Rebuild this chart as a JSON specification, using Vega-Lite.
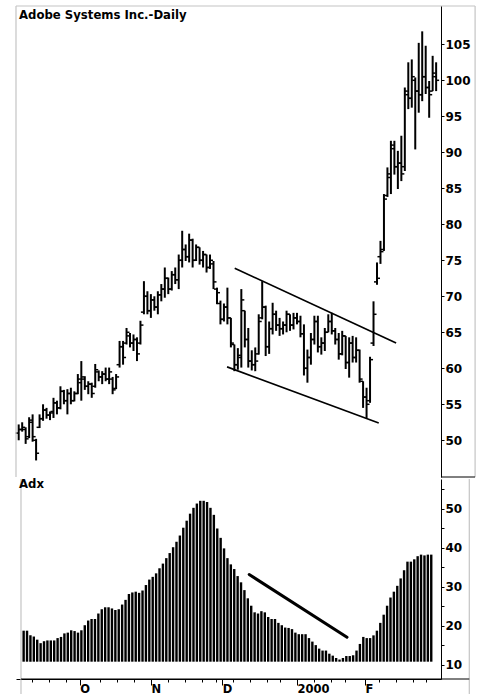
{
"$schema": "https://vega.github.io/schema/vega-lite/v6.json",
"background": "white",
"padding": {"left": 14, "top": 5, "right": 0, "bottom": 0},
"autosize": {"type": "pad"},
"spacing": 0,
"config": {
 "view": {"stroke": null},
 "axis": {"labelFont": "DejaVu Sans", "labelFontWeight": "bold", "labelFontSize": 12, "labelColor": "#000", "domainColor": "#000", "tickColor": "#000", "grid": false, "domainWidth": 1, "tickWidth": 1},
 "title": {"font": "DejaVu Sans", "fontWeight": "bold", "fontSize": 11.7, "color": "#000", "anchor": "start", "frame": "group"}
},
"resolve": {"scale": {"x": "independent", "y": "independent"}},
"datasets": {
 "px": [
{"i":0,"o":51.0,"h":52.2,"l":50.0,"c":51.5},{"i":1,"o":51.5,"h":52.5,"l":51.2,"c":51.8},{"i":2,"o":51.5,"h":51.8,"l":49.5,"c":50.2},{"i":3,"o":50.5,"h":53.2,"l":50.3,"c":52.8},{"i":4,"o":52.5,"h":53.6,"l":49.8,"c":50.5},{"i":5,"o":50.0,"h":50.2,"l":47.2,"c":48.2},{"i":6,"o":51.8,"h":53.6,"l":51.7,"c":53.0},{"i":7,"o":53.0,"h":55.0,"l":52.7,"c":54.2},{"i":8,"o":54.2,"h":54.5,"l":53.0,"c":53.5},{"i":9,"o":53.5,"h":54.0,"l":52.8,"c":53.8},
{"i":10,"o":54.0,"h":55.9,"l":53.1,"c":55.2},{"i":11,"o":55.2,"h":55.5,"l":53.6,"c":54.5},{"i":12,"o":54.5,"h":57.5,"l":54.3,"c":56.8},{"i":13,"o":56.8,"h":57.0,"l":55.0,"c":55.5},{"i":14,"o":55.5,"h":57.1,"l":53.6,"c":56.5},{"i":15,"o":56.5,"h":57.3,"l":55.0,"c":55.5},{"i":16,"o":55.5,"h":56.8,"l":55.4,"c":56.5},{"i":17,"o":56.5,"h":59.2,"l":56.4,"c":58.5},{"i":18,"o":58.0,"h":61.0,"l":55.5,"c":58.8},{"i":19,"o":58.5,"h":58.9,"l":57.0,"c":57.5},
{"i":20,"o":57.5,"h":58.2,"l":56.4,"c":57.8},{"i":21,"o":57.8,"h":58.0,"l":55.9,"c":56.5},{"i":22,"o":57.5,"h":60.6,"l":57.3,"c":59.8},{"i":23,"o":59.5,"h":59.7,"l":58.2,"c":58.8},{"i":24,"o":58.8,"h":59.6,"l":57.8,"c":59.2},{"i":25,"o":59.2,"h":60.1,"l":58.2,"c":58.5},{"i":26,"o":58.5,"h":60.1,"l":57.8,"c":59.5},{"i":27,"o":58.5,"h":58.8,"l":56.4,"c":57.0},{"i":28,"o":57.2,"h":59.2,"l":57.1,"c":58.8},{"i":29,"o":60.5,"h":63.8,"l":60.1,"c":63.0},
{"i":30,"o":63.0,"h":63.8,"l":60.5,"c":61.5},{"i":31,"o":63.5,"h":65.6,"l":63.3,"c":65.0},{"i":32,"o":64.5,"h":64.9,"l":62.9,"c":63.5},{"i":33,"o":63.5,"h":64.7,"l":62.4,"c":64.0},{"i":34,"o":64.0,"h":64.3,"l":61.0,"c":62.0},{"i":35,"o":63.5,"h":66.6,"l":63.3,"c":66.0},{"i":36,"o":67.8,"h":72.1,"l":67.5,"c":70.0},{"i":37,"o":70.0,"h":70.7,"l":67.5,"c":68.0},{"i":38,"o":68.0,"h":70.3,"l":67.0,"c":69.5},{"i":39,"o":69.5,"h":70.0,"l":68.0,"c":68.5},
{"i":40,"o":68.5,"h":70.7,"l":67.5,"c":70.2},{"i":41,"o":70.2,"h":71.7,"l":69.3,"c":71.0},{"i":42,"o":71.0,"h":74.0,"l":69.8,"c":72.5},{"i":43,"o":72.5,"h":72.6,"l":70.3,"c":71.0},{"i":44,"o":71.0,"h":73.5,"l":70.8,"c":73.0},{"i":45,"o":73.0,"h":74.0,"l":71.7,"c":72.3},{"i":46,"o":72.3,"h":75.8,"l":71.0,"c":75.0},{"i":47,"o":75.0,"h":79.1,"l":74.0,"c":76.5},{"i":48,"o":76.5,"h":77.2,"l":74.9,"c":75.5},{"i":49,"o":75.5,"h":78.7,"l":74.7,"c":77.8},
{"i":50,"o":77.8,"h":78.0,"l":74.0,"c":75.0},{"i":51,"o":75.0,"h":77.2,"l":74.9,"c":76.8},{"i":52,"o":76.8,"h":76.8,"l":74.4,"c":75.0},{"i":53,"o":75.0,"h":76.3,"l":74.0,"c":75.8},{"i":54,"o":75.8,"h":75.8,"l":73.3,"c":74.0},{"i":55,"o":74.0,"h":75.8,"l":73.8,"c":75.0},{"i":56,"o":74.5,"h":74.9,"l":71.0,"c":72.0},{"i":57,"o":71.0,"h":71.2,"l":68.9,"c":70.5},{"i":58,"o":69.0,"h":69.4,"l":66.1,"c":66.8},{"i":59,"o":66.8,"h":69.0,"l":66.5,"c":68.5},
{"i":60,"o":68.5,"h":71.2,"l":66.1,"c":67.0},{"i":61,"o":67.0,"h":67.0,"l":62.9,"c":63.5},{"i":62,"o":63.3,"h":63.3,"l":59.6,"c":60.5},{"i":63,"o":60.5,"h":62.8,"l":59.8,"c":61.8},{"i":64,"o":61.5,"h":71.0,"l":60.1,"c":69.5},{"i":65,"o":68.0,"h":68.0,"l":62.9,"c":64.0},{"i":66,"o":64.0,"h":65.6,"l":60.1,"c":61.0},{"i":67,"o":61.0,"h":62.5,"l":59.7,"c":60.5},{"i":68,"o":60.5,"h":62.9,"l":59.6,"c":61.0},{"i":69,"o":62.0,"h":67.5,"l":61.9,"c":66.5},
{"i":70,"o":67.0,"h":72.1,"l":66.8,"c":68.5},{"i":71,"o":68.5,"h":68.7,"l":61.7,"c":63.0},{"i":72,"o":63.0,"h":66.5,"l":62.0,"c":65.5},{"i":73,"o":65.5,"h":69.1,"l":64.7,"c":67.5},{"i":74,"o":67.5,"h":68.0,"l":65.2,"c":66.0},{"i":75,"o":66.0,"h":67.0,"l":64.5,"c":65.5},{"i":76,"o":65.5,"h":66.5,"l":64.7,"c":66.0},{"i":77,"o":66.0,"h":68.0,"l":65.0,"c":67.5},{"i":78,"o":67.5,"h":67.5,"l":65.2,"c":66.0},{"i":79,"o":66.0,"h":67.7,"l":65.4,"c":67.0},
{"i":80,"o":67.0,"h":67.7,"l":66.1,"c":66.5},{"i":81,"o":66.5,"h":67.3,"l":64.3,"c":64.8},{"i":82,"o":64.8,"h":66.1,"l":59.0,"c":60.0},{"i":83,"o":60.0,"h":62.6,"l":58.0,"c":61.5},{"i":84,"o":61.5,"h":64.9,"l":60.5,"c":64.0},{"i":85,"o":64.0,"h":67.3,"l":63.3,"c":66.5},{"i":86,"o":66.5,"h":67.3,"l":62.2,"c":63.0},{"i":87,"o":63.0,"h":64.3,"l":61.9,"c":63.5},{"i":88,"o":63.5,"h":65.6,"l":62.4,"c":65.0},{"i":89,"o":65.0,"h":67.5,"l":65.0,"c":66.5},
{"i":90,"o":66.5,"h":67.7,"l":64.7,"c":65.2},{"i":91,"o":65.2,"h":65.6,"l":63.3,"c":64.0},{"i":92,"o":64.0,"h":64.9,"l":61.2,"c":62.0},{"i":93,"o":62.0,"h":65.2,"l":61.8,"c":64.5},{"i":94,"o":64.5,"h":64.5,"l":59.9,"c":60.8},{"i":95,"o":60.8,"h":64.3,"l":58.7,"c":63.5},{"i":96,"o":63.5,"h":64.5,"l":60.8,"c":61.5},{"i":97,"o":61.5,"h":64.3,"l":60.8,"c":62.5},{"i":98,"o":62.5,"h":62.6,"l":58.0,"c":58.5},{"i":99,"o":58.2,"h":58.2,"l":54.5,"c":56.0},
{"i":100,"o":56.0,"h":57.3,"l":53.1,"c":55.0},{"i":101,"o":55.5,"h":61.6,"l":55.2,"c":61.2},{"i":102,"o":63.5,"h":69.3,"l":63.1,"c":67.5},{"i":103,"o":72.0,"h":74.7,"l":71.6,"c":72.5},{"i":104,"o":75.5,"h":77.7,"l":74.5,"c":76.2},{"i":105,"o":76.5,"h":84.2,"l":76.3,"c":83.5},{"i":106,"o":84.0,"h":87.9,"l":83.8,"c":87.0},{"i":107,"o":86.5,"h":91.6,"l":84.2,"c":91.0},{"i":108,"o":90.5,"h":91.6,"l":86.9,"c":88.0},{"i":109,"o":88.0,"h":90.2,"l":84.9,"c":88.5},
{"i":110,"o":88.5,"h":92.3,"l":86.0,"c":87.0},{"i":111,"o":88.0,"h":99.0,"l":87.4,"c":98.5},{"i":112,"o":98.0,"h":102.5,"l":96.0,"c":97.5},{"i":113,"o":97.5,"h":102.9,"l":96.2,"c":100.5},{"i":114,"o":100.0,"h":100.4,"l":90.4,"c":98.5},{"i":115,"o":98.5,"h":105.2,"l":95.5,"c":98.0},{"i":116,"o":98.0,"h":106.8,"l":97.1,"c":100.5},{"i":117,"o":100.5,"h":104.8,"l":98.1,"c":99.0},{"i":118,"o":99.0,"h":99.9,"l":94.8,"c":98.0},{"i":119,"o":98.5,"h":103.4,"l":98.5,"c":101.0},
{"i":120,"o":100.5,"h":102.5,"l":98.5,"c":100.0}
 ],
 "adx": [
{"i":0,"v":18.8},{"i":1,"v":18.8},{"i":2,"v":17.6},{"i":3,"v":17.3},{"i":4,"v":16.5},{"i":5,"v":15.6},{"i":6,"v":16.1},{"i":7,"v":16.3},{"i":8,"v":16.3},{"i":9,"v":16.3},
{"i":10,"v":16.9},{"i":11,"v":17.2},{"i":12,"v":18.1},{"i":13,"v":18.3},{"i":14,"v":18.9},{"i":15,"v":18.7},{"i":16,"v":18.3},{"i":17,"v":18.9},{"i":18,"v":20.2},{"i":19,"v":21.4},
{"i":20,"v":21.8},{"i":21,"v":21.8},{"i":22,"v":23.2},{"i":23,"v":24.3},{"i":24,"v":24.8},{"i":25,"v":24.8},{"i":26,"v":24.5},{"i":27,"v":24.1},{"i":28,"v":24.3},{"i":29,"v":25.5},
{"i":30,"v":26.7},{"i":31,"v":28.2},{"i":32,"v":28.6},{"i":33,"v":28.8},{"i":34,"v":28.5},{"i":35,"v":29.1},{"i":36,"v":30.5},{"i":37,"v":31.9},{"i":38,"v":32.6},{"i":39,"v":33.5},
{"i":40,"v":34.8},{"i":41,"v":36.0},{"i":42,"v":37.4},{"i":43,"v":38.7},{"i":44,"v":40.2},{"i":45,"v":41.6},{"i":46,"v":43.2},{"i":47,"v":45.2},{"i":48,"v":47.0},{"i":49,"v":48.8},
{"i":50,"v":50.3},{"i":51,"v":51.4},{"i":52,"v":52.1},{"i":53,"v":52.1},{"i":54,"v":51.8},{"i":55,"v":50.3},{"i":56,"v":48.5},{"i":57,"v":45.0},{"i":58,"v":42.6},{"i":59,"v":39.9},
{"i":60,"v":37.4},{"i":61,"v":35.8},{"i":62,"v":34.6},{"i":63,"v":32.8},{"i":64,"v":31.2},{"i":65,"v":29.2},{"i":66,"v":27.1},{"i":67,"v":25.2},{"i":68,"v":23.5},{"i":69,"v":23.2},
{"i":70,"v":23.8},{"i":71,"v":23.5},{"i":72,"v":22.3},{"i":73,"v":21.8},{"i":74,"v":21.8},{"i":75,"v":20.8},{"i":76,"v":20.2},{"i":77,"v":19.6},{"i":78,"v":19.5},{"i":79,"v":19.2},
{"i":80,"v":18.3},{"i":81,"v":17.9},{"i":82,"v":17.9},{"i":83,"v":17.9},{"i":84,"v":16.9},{"i":85,"v":16.0},{"i":86,"v":15.1},{"i":87,"v":14.2},{"i":88,"v":13.7},{"i":89,"v":13.7},
{"i":90,"v":12.9},{"i":91,"v":12.4},{"i":92,"v":11.8},{"i":93,"v":11.4},{"i":94,"v":11.8},{"i":95,"v":12.3},{"i":96,"v":12.3},{"i":97,"v":12.5},{"i":98,"v":13.7},{"i":99,"v":15.4},
{"i":100,"v":17.2},{"i":101,"v":16.9},{"i":102,"v":16.9},{"i":103,"v":17.6},{"i":104,"v":18.8},{"i":105,"v":20.8},{"i":106,"v":22.9},{"i":107,"v":25.2},{"i":108,"v":27.3},{"i":109,"v":28.8},
{"i":110,"v":30.3},{"i":111,"v":32.2},{"i":112,"v":34.3},{"i":113,"v":36.5},{"i":114,"v":36.5},{"i":115,"v":37.1},{"i":116,"v":37.9},{"i":117,"v":38.3},{"i":118,"v":38.1},{"i":119,"v":38.3},
{"i":120,"v":38.3}
 ],
 "channel": [
{"x":62.1,"y":73.9,"x2":108.5,"y2":63.5},
{"x":59.9,"y":60.2,"x2":103.5,"y2":52.4}
 ],
 "adxline": [
{"x":66.4,"y":33.2,"x2":95.2,"y2":17.1}
 ],
 "one": [{}]
},
"vconcat": [
{
 "width": 425,
 "height": 471,
 "title": {"text": "Adobe Systems Inc.-Daily", "offset": -16, "dx": 3},
 "resolve": {"axis": {"x": "independent", "y": "independent"}},
 "layer": [
  {
   "data": {"name": "px"},
   "mark": {"type": "rule", "strokeWidth": 2, "color": "#000"},
   "encoding": {
    "x": {"field": "i", "type": "quantitative", "scale": {"domain": [-0.776, 121.4], "nice": false, "zero": false}, "axis": null},
    "y": {"field": "l", "type": "quantitative", "scale": {"domain": [44.9, 110.32], "nice": false, "zero": false},
      "axis": {"orient": "right", "values": [50,55,60,65,70,75,80,85,90,95,100,105], "tickSize": 3, "labelPadding": 1, "title": null, "zindex": 2}},
    "y2": {"field": "h"}
   }
  },
  {
   "data": {"name": "px"},
   "mark": {"type": "rule", "strokeWidth": 1.5, "color": "#000", "xOffset": -3, "x2Offset": 0},
   "encoding": {
    "x": {"field": "i", "type": "quantitative", "axis": null},
    "x2": {"field": "i"},
    "y": {"field": "o", "type": "quantitative", "axis": null}
   }
  },
  {
   "data": {"name": "px"},
   "mark": {"type": "rule", "strokeWidth": 1.5, "color": "#000", "xOffset": 0, "x2Offset": 3},
   "encoding": {
    "x": {"field": "i", "type": "quantitative", "axis": null},
    "x2": {"field": "i"},
    "y": {"field": "c", "type": "quantitative", "axis": null}
   }
  },
  {
   "data": {"name": "channel"},
   "mark": {"type": "rule", "strokeWidth": 1.7, "color": "#000"},
   "encoding": {
    "x": {"field": "x", "type": "quantitative", "axis": null},
    "x2": {"field": "x2"},
    "y": {"field": "y", "type": "quantitative", "axis": null},
    "y2": {"field": "y2"}
   }
  },
  {
   "data": {"name": "one"},
   "mark": {"type": "rule", "strokeWidth": 1.2, "color": "#c4c4c4"},
   "encoding": {
    "x": {"datum": -0.776, "type": "quantitative", "axis": null},
    "y": {"datum": 44.9, "type": "quantitative", "axis": null},
    "y2": {"datum": 110.32}
   }
  },
  {
   "data": {"name": "one"},
   "mark": {"type": "rule", "strokeWidth": 1.2, "color": "#c4c4c4"},
   "encoding": {
    "x": {"datum": 131.2, "type": "quantitative", "axis": null},
    "y": {"datum": 44.9, "type": "quantitative", "axis": null},
    "y2": {"datum": 110.32}
   }
  },
  {
   "data": {"name": "one"},
   "mark": {"type": "rule", "strokeWidth": 1.2, "color": "#c4c4c4"},
   "encoding": {
    "x": {"datum": -0.776, "type": "quantitative", "axis": null},
    "x2": {"datum": 131.2},
    "y": {"datum": 110.32, "type": "quantitative", "axis": null}
   }
  },
  {
   "data": {"name": "one"},
   "mark": {"type": "rule", "strokeWidth": 1, "color": "#000"},
   "encoding": {
    "x": {"datum": 121.4, "type": "quantitative", "axis": null},
    "x2": {"datum": 131.2},
    "y": {"datum": 44.9, "type": "quantitative", "axis": null}
   }
  }
 ]
},
{
 "width": 425,
 "height": 200,
 "title": {"text": "Adx", "offset": -12, "dx": 3},
 "resolve": {"axis": {"x": "independent", "y": "independent"}},
 "layer": [
  {
   "data": {"name": "adx"},
   "mark": {"type": "bar", "size": 2.4, "color": "#000", "orient": "vertical"},
   "encoding": {
    "x": {"field": "i", "type": "quantitative", "scale": {"domain": [-0.776, 121.4], "nice": false, "zero": false},
      "axis": {"orient": "bottom", "values": [16.5, 37.5, 58.5, 80.5, 100.5], "labelExpr": "datum.value < 20 ? 'O' : datum.value < 40 ? 'N' : datum.value < 60 ? 'D' : datum.value < 90 ? '2000' : 'F'", "tickSize": 6, "labelAlign": "left", "labelBaseline": "top", "labelPadding": -2, "labelOffset": 0, "labelFontSize": 11.5, "labelFlush": false, "labelOverlap": false, "title": null}},
    "y": {"field": "v", "type": "quantitative", "scale": {"domain": [6.41, 57.69], "nice": false, "zero": false},
      "axis": {"orient": "right", "values": [10,15,20,25,30,35,40,45,50,55], "labelExpr": "datum.value % 10 == 0 ? datum.label : ''", "tickSize": 3, "labelPadding": 1, "title": null, "zindex": 2}},
    "y2": {"datum": 10.85}
   }
  },
  {
   "data": {"name": "adxline"},
   "mark": {"type": "rule", "strokeWidth": 3, "color": "#000", "strokeCap": "round"},
   "encoding": {
    "x": {"field": "x", "type": "quantitative",
      "axis": {"orient": "bottom", "values": [2.5, 7.5, 12.5, 22.5, 27.5, 32.5, 42.5, 47.5, 52.5, 56.5, 61.5, 66.5, 71.5, 75.5, 85.5, 90.5, 94.5, 104.5, 109.5, 114.5, 118.5], "labels": false, "tickSize": 3, "domain": false, "title": null}},
    "x2": {"field": "x2"},
    "y": {"field": "y", "type": "quantitative", "axis": null},
    "y2": {"field": "y2"}
   }
  },
  {
   "data": {"name": "one"},
   "mark": {"type": "rule", "strokeWidth": 1.2, "color": "#c4c4c4"},
   "encoding": {
    "x": {"datum": -0.776, "type": "quantitative", "axis": null},
    "y": {"datum": 1.9, "type": "quantitative", "axis": null},
    "y2": {"datum": 57.69}
   }
  },
  {
   "data": {"name": "one"},
   "mark": {"type": "rule", "strokeWidth": 1.2, "color": "#c4c4c4"},
   "encoding": {
    "x": {"datum": 131.2, "type": "quantitative", "axis": null},
    "y": {"datum": 1.9, "type": "quantitative", "axis": null},
    "y2": {"datum": 57.69}
   }
  },
  {
   "data": {"name": "one"},
   "mark": {"type": "rule", "strokeWidth": 1.2, "color": "#c4c4c4"},
   "encoding": {
    "x": {"datum": -0.776, "type": "quantitative", "axis": null},
    "x2": {"datum": 131.2},
    "y": {"datum": 1.9, "type": "quantitative", "axis": null}
   }
  },
  {
   "data": {"name": "one"},
   "mark": {"type": "rule", "strokeWidth": 1, "color": "#000"},
   "encoding": {
    "x": {"datum": -0.776, "type": "quantitative", "axis": null},
    "x2": {"datum": 131.2},
    "y": {"datum": 6.41, "type": "quantitative", "axis": null}
   }
  }
 ]
}
]
}
